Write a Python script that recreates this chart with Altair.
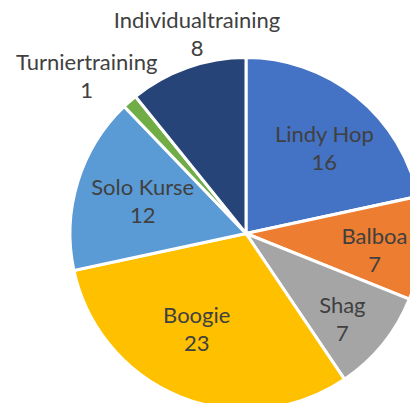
import altair as alt
import pandas as pd

categories = ["Lindy Hop", "Balboa", "Shag", "Boogie", "Solo Kurse", "Turniertraining", "Individualtraining"]
values = [16, 7, 7, 23, 12, 1, 8]
colors = ["#4472C4", "#ED7D31", "#A5A5A5", "#FFC000", "#5B9BD5", "#70AD47", "#264478"]

df = pd.DataFrame({"cat": categories, "val": values, "order": list(range(len(values)))})
df["label"] = df["cat"] + "\n" + df["val"].astype(str)

CX, CY = 238, 225.5
R = 176

pie = alt.Chart(df).mark_arc(stroke="white", strokeWidth=3, radius=R).encode(
    theta=alt.Theta("val:Q", stack=True),
    order=alt.Order("order:Q"),
    color=alt.Color("cat:N", scale=alt.Scale(domain=categories, range=colors), legend=None),
    x=alt.value(CX),
    y=alt.value(CY),
)

lab_base = alt.Chart(df).transform_window(
    cum="sum(val)", sort=[alt.SortField("order")], frame=[None, 0]
).transform_calculate(mid="datum.cum - datum.val / 2")


def label(name, radius, dx=0, dy=0):
    return lab_base.transform_filter(alt.datum.cat == name).mark_text(
        radius=radius, font="Lato", fontSize=22, color="#404040",
        lineBreak="\n", lineHeight=28, align="center", baseline="middle",
        dx=dx, dy=dy - 14,
    ).encode(
        theta=alt.Theta("mid:Q", stack=None),
        text="label:N",
        x=alt.value(CX),
        y=alt.value(CY),
    )


layers = [
    pie,
    label("Lindy Hop", 112, 8, 3),
    label("Balboa", 137, -8, 6),
    label("Shag", 129, -4, 5),
    label("Boogie", 108, -9, -4),
    label("Solo Kurse", 108, 0, 0),
    label("Turniertraining", 223, -12, 11),
    label("Individualtraining", 207, 20, -3),
]

chart = alt.layer(*layers).properties(
    width=402, height=395, padding=0,
    autosize=alt.AutoSizeParams(type="none"),
).configure_view(stroke=None)

chart.save("out.html", embed_options={"renderer": "svg", "actions": False})
